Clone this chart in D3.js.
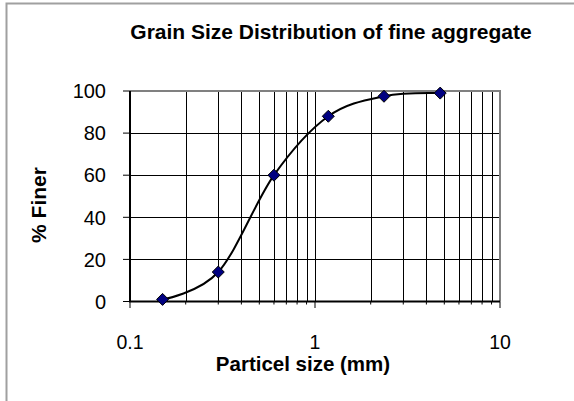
<!DOCTYPE html>
<html>
<head>
<meta charset="utf-8">
<script src="https://cdn.jsdelivr.net/npm/d3@7"></script>
<style>
  body { margin: 0; background: #fff; }
  text { font-family: "Liberation Sans", Arial, sans-serif; fill: #000; }
</style>
</head>
<body>
<svg id="chart" width="574" height="401"></svg>
<script>
const sizes = [0.15, 0.3, 0.6, 1.18, 2.36, 4.75];
const finer = [1, 14, 60, 88, 97.5, 99];
const xTickLabels = [0.1, 1, 10];
const yTicks = [0, 20, 40, 60, 80, 100];

const width = 574;
const height = 401;
const plot = { left: 130, right: 500, top: 91, bottom: 301.5 };

const svg = d3.select("#chart");

// chart frame (only left and top edges visible)
svg.append("path")
  .attr("d", `M6.5,401V3.5H574`)
  .attr("fill", "none")
  .attr("stroke", "#a0a0a0")
  .attr("stroke-width", 2);

const x = d3.scaleLog().domain([0.1, 10]).range([plot.left, plot.right]);
const y = d3.scaleLinear().domain([0, 100]).range([plot.bottom, plot.top]);

// vertical gridlines at every log tick
svg.append("g")
  .selectAll("line")
  .data(x.ticks().filter(d => d > 0.1 && d < 10))
  .join("line")
  .attr("x1", d => Math.round(x(d)) + 0.5)
  .attr("x2", d => Math.round(x(d)) + 0.5)
  .attr("y1", plot.top)
  .attr("y2", plot.bottom)
  .attr("stroke", "#000")
  .attr("stroke-width", 1);

// horizontal gridlines
svg.append("g")
  .selectAll("line")
  .data(yTicks.filter(d => d > 0 && d < 100))
  .join("line")
  .attr("x1", plot.left)
  .attr("x2", plot.right)
  .attr("y1", d => Math.round(y(d)) + 0.5)
  .attr("y2", d => Math.round(y(d)) + 0.5)
  .attr("stroke", "#000")
  .attr("stroke-width", 1);

// plot border top/right (gray)
svg.append("path")
  .attr("d", `M${plot.left},${plot.top}H${plot.right}V${plot.bottom}`)
  .attr("fill", "none")
  .attr("stroke", "#808080")
  .attr("stroke-width", 2);

// axes lines
svg.append("path")
  .attr("d", `M${plot.left},${plot.top}V${plot.bottom}H${plot.right}`)
  .attr("fill", "none")
  .attr("stroke", "#000")
  .attr("stroke-width", 2);

// x ticks: minor short, major long
svg.append("g")
  .selectAll("line")
  .data(x.ticks())
  .join("line")
  .attr("x1", d => x(d))
  .attr("x2", d => x(d))
  .attr("y1", plot.bottom)
  .attr("y2", d => plot.bottom + (xTickLabels.includes(d) ? 6.5 : 3))
  .attr("stroke", "#000")
  .attr("stroke-width", 1);

// y ticks
svg.append("g")
  .selectAll("line")
  .data(yTicks)
  .join("line")
  .attr("x1", plot.left - 7)
  .attr("x2", plot.left)
  .attr("y1", d => y(d))
  .attr("y2", d => y(d))
  .attr("stroke", "#000")
  .attr("stroke-width", 1);

// tick labels
svg.append("g")
  .selectAll("text")
  .data(xTickLabels)
  .join("text")
  .attr("x", d => x(d))
  .attr("y", 349)
  .attr("text-anchor", "middle")
  .style("font-size", "19.5px")
  .text(d => d);

svg.append("g")
  .selectAll("text")
  .data(yTicks)
  .join("text")
  .attr("x", 106)
  .attr("y", d => y(d))
  .attr("dy", "0.36em")
  .attr("text-anchor", "end")
  .style("font-size", "20px")
  .text(d => d);

// titles
svg.append("text")
  .attr("x", 331)
  .attr("y", 39)
  .attr("text-anchor", "middle")
  .style("font-size", "21px")
  .style("font-weight", "bold")
  .text("Grain Size Distribution of fine aggregate");

svg.append("text")
  .attr("x", 303)
  .attr("y", 371)
  .attr("text-anchor", "middle")
  .style("font-size", "20.5px")
  .style("font-weight", "bold")
  .text("Particel size (mm)");

svg.append("text")
  .attr("transform", "translate(46,205) rotate(-90)")
  .attr("text-anchor", "middle")
  .style("font-size", "21px")
  .style("font-weight", "bold")
  .text("% Finer");

// smoothed curve
const pts = sizes.map((s, i) => [s, finer[i]]);
const line = d3.line()
  .x(d => x(d[0]))
  .y(d => y(d[1]))
  .curve(d3.curveCardinal.tension(0));

svg.append("path")
  .datum(pts)
  .attr("d", line)
  .attr("fill", "none")
  .attr("stroke", "#000")
  .attr("stroke-width", 2);

// diamond markers
svg.append("g")
  .selectAll("path")
  .data(pts)
  .join("path")
  .attr("transform", d => `translate(${x(d[0])},${y(d[1])})`)
  .attr("d", "M0,-6L6,0L0,6L-6,0Z")
  .attr("fill", "#000080")
  .attr("stroke", "#000")
  .attr("stroke-width", 1);
</script>
</body>
</html>
